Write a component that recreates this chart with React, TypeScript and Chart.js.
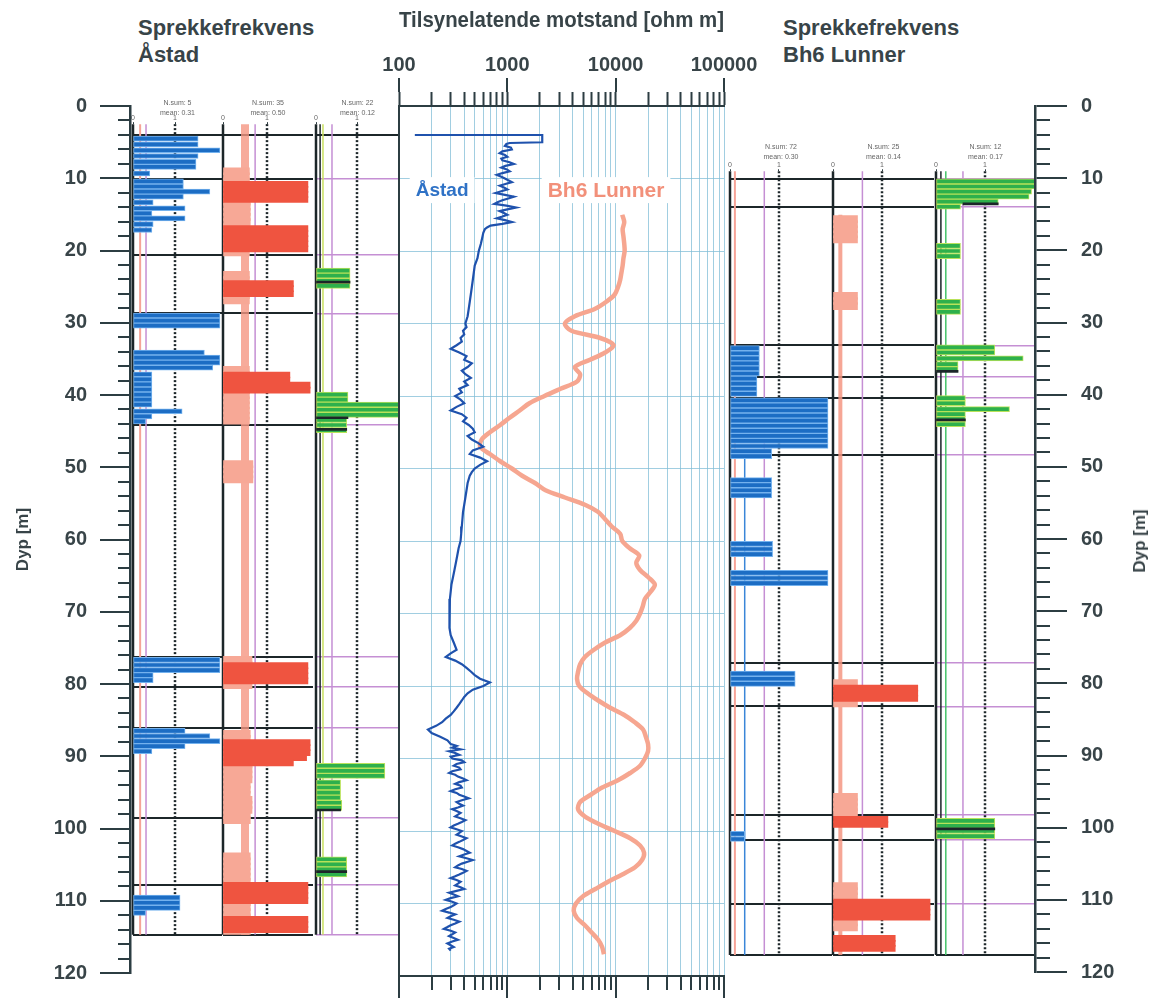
import React, { useEffect, useRef } from 'react';
import { Chart, registerables } from 'chart.js';

Chart.register(...registerables);

/* ======================= DATA ======================= */
const depthTickLabels = [0, 10, 20, 30, 40, 50, 60, 70, 80, 90, 100, 110, 120];
const resistivityTickLabels = [100, 1000, 10000, 100000];
const fractureTickLabels = [0, 1];

// [depth m, apparent resistivity ohm m]
const astadResistivity: [number, number][] = [
  [4.0, 140], [4.0, 2100], [5.0, 2100], [5.1, 1050], [5.25, 980], [5.5, 950], [5.75, 1080], [6.0, 1100],
  [6.25, 900], [6.5, 850], [6.75, 950], [7.0, 1000], [7.25, 880], [7.5, 900], [7.75, 1050], [8.0, 1150],
  [8.25, 960], [8.5, 880], [8.75, 990], [9.0, 1050], [9.25, 900], [9.5, 800], [9.75, 880], [10.0, 950],
  [10.25, 1020], [10.5, 1100], [10.75, 960], [11.0, 850], [11.25, 930], [11.5, 1000], [11.75, 880], [12.0, 780],
  [12.25, 950], [12.5, 1150], [12.75, 1020], [13.0, 900], [13.25, 820], [13.5, 760], [13.75, 980], [14.0, 1200],
  [14.25, 1000], [14.5, 850], [14.75, 930], [15.0, 1000], [15.25, 900], [15.5, 800], [15.75, 950], [16.0, 1100],
  [16.25, 900], [16.5, 700], [16.75, 650], [17.0, 620], [17.5, 600], [18.0, 590], [19.0, 570], [20.0, 545],
  [21.0, 530], [22.0, 500], [23.0, 490], [24.0, 480], [25.0, 470], [26.0, 460], [27.0, 450], [28.0, 440],
  [29.0, 430], [30.0, 410], [30.5, 420], [31.0, 390], [31.5, 400], [32.0, 370], [32.5, 380], [33.0, 340],
  [33.5, 300], [34.0, 360], [34.5, 420], [35.0, 400], [35.5, 470], [36.0, 430], [36.5, 380], [37.0, 410],
  [37.5, 460], [38.0, 400], [38.5, 430], [39.0, 360], [39.5, 380], [40.0, 330], [40.5, 370], [41.0, 400],
  [41.5, 340], [42.0, 300], [42.5, 380], [43.0, 420], [43.5, 390], [44.0, 440], [44.5, 480], [45.0, 500],
  [45.5, 430], [46.0, 470], [46.5, 540], [47.0, 600], [47.5, 480], [48.0, 450], [48.5, 560], [49.0, 650],
  [49.5, 560], [50.0, 500], [50.5, 470], [51.0, 450], [52.0, 430], [53.0, 420], [54.0, 410], [55.0, 400],
  [56.0, 390], [57.0, 385], [58.0, 380], [59.0, 375], [60.0, 370], [61.0, 355], [62.0, 345], [63.0, 335],
  [64.0, 325], [65.0, 315], [66.0, 305], [67.0, 300], [68.0, 295], [69.0, 292], [70.0, 290], [71.0, 292],
  [72.0, 295], [73.0, 300], [74.0, 320], [75.0, 340], [75.5, 300], [76.0, 270], [76.5, 330], [77.0, 380],
  [77.5, 420], [78.0, 460], [78.5, 500], [79.0, 560], [79.5, 690], [80.0, 600], [80.5, 480], [81.0, 430],
  [81.5, 400], [82.0, 380], [82.5, 360], [83.0, 340], [83.5, 320], [84.0, 300], [84.5, 270], [85.0, 250],
  [85.5, 220], [86.0, 185], [86.5, 200], [87.0, 240], [87.5, 280], [88.0, 300], [88.25, 340], [88.5, 310],
  [88.75, 370], [89.0, 290], [89.25, 330], [89.5, 360], [89.75, 300], [90.0, 310], [90.25, 380], [90.5, 400],
  [90.75, 340], [91.0, 320], [91.25, 360], [91.5, 370], [91.75, 310], [92.0, 290], [92.25, 330], [92.5, 350],
  [92.75, 390], [93.0, 420], [93.25, 360], [93.5, 330], [93.75, 370], [94.0, 380], [94.25, 330], [94.5, 300],
  [94.75, 340], [95.0, 360], [95.25, 400], [95.5, 440], [95.75, 380], [96.0, 340], [96.25, 360], [96.5, 390],
  [96.75, 350], [97.0, 310], [97.25, 340], [97.5, 370], [97.75, 350], [98.0, 330], [98.25, 370], [98.5, 410],
  [98.75, 380], [99.0, 350], [99.25, 320], [99.5, 300], [99.75, 340], [100.0, 380], [100.25, 360], [100.5, 340],
  [100.75, 380], [101.0, 420], [101.25, 390], [101.5, 360], [101.75, 330], [102.0, 310], [102.25, 350], [102.5, 390],
  [102.75, 420], [103.0, 450], [103.25, 400], [103.5, 360], [103.75, 420], [104.0, 480], [104.25, 430], [104.5, 380],
  [104.75, 350], [105.0, 330], [105.25, 380], [105.5, 420], [105.75, 390], [106.0, 360], [106.25, 330], [106.5, 300],
  [106.75, 340], [107.0, 370], [107.25, 350], [107.5, 330], [107.75, 370], [108.0, 400], [108.25, 340], [108.5, 290],
  [108.75, 320], [109.0, 350], [109.25, 300], [109.5, 270], [109.75, 310], [110.0, 340], [110.25, 320], [110.5, 300],
  [110.75, 270], [111.0, 250], [111.25, 290], [111.5, 330], [111.75, 300], [112.0, 280], [112.25, 320], [112.5, 360],
  [112.75, 330], [113.0, 300], [113.25, 280], [113.5, 260], [113.75, 300], [114.0, 330], [114.25, 310], [114.5, 290],
  [114.75, 320], [115.0, 350], [115.25, 310], [115.5, 280], [115.75, 300], [116.0, 320], [116.25, 290], [116.5, 300],
];

const lunnerResistivity: [number, number][] = [
  [15, 11500], [16, 12000], [17, 11600], [18, 11800], [19, 12000], [20, 12100], [21, 11800], [22, 11600],
  [23, 11300], [24, 11000], [25, 10500], [26, 9800], [27, 8200], [28, 6400], [29, 4200], [30, 3400],
  [31, 3900], [32, 7200], [33, 9600], [34, 8000], [35, 5800], [36, 4200], [37, 4700], [38, 4400],
  [39, 3100], [40, 2200], [41, 1600], [42, 1300], [43, 1050], [44, 860], [45, 690], [46, 580],
  [47, 560], [48, 690], [49, 860], [50, 1100], [51, 1370], [52, 1800], [53, 2250], [54, 3400],
  [55, 5200], [56, 6900], [57, 8000], [58, 9200], [59, 11000], [60, 11500], [61, 13500], [62, 16500],
  [63, 15500], [64, 16800], [65, 20000], [66, 23000], [67, 21000], [68, 18600], [69, 17800], [70, 16800],
  [71, 15500], [72, 13500], [73, 11000], [74, 8000], [75, 6300], [76, 5200], [77, 4700], [78, 4500],
  [79, 4400], [80, 4600], [81, 5500], [82, 6900], [83, 8900], [84, 12000], [85, 15000], [86, 17900],
  [87, 19000], [88, 19900], [89, 19900], [90, 18600], [91, 16800], [92, 13600], [93, 10500], [94, 7500],
  [95, 5900], [96, 4700], [97, 4500], [98, 5200], [99, 6900], [100, 9800], [101, 13600], [102, 16800],
  [103, 18300], [104, 17500], [105, 15100], [106, 11500], [107, 8500], [108, 6500], [109, 5000], [110, 4300],
  [111, 4100], [112, 4400], [113, 5200], [114, 6000], [115, 6900], [116, 7500], [117, 7800],
];

// Fracture frequency, Åstad: [depth, value]
const astadBlue: [number, number][] = [
  [4.5, 1.55], [5.3, 1.55], [6.1, 2.07], [6.9, 1.55], [7.7, 1.5], [8.4, 1.5], [9.3, 0.4], [10.4, 1.2],
  [11.1, 1.2], [11.8, 1.83], [12.5, 1.2], [13.3, 0.48], [14.1, 1.24], [14.8, 0.45], [15.5, 1.24], [16.3, 0.48],
  [17.1, 0.45], [28.9, 2.07], [29.6, 2.07], [30.3, 2.07], [34.0, 1.7], [34.7, 2.07], [35.4, 2.07], [36.1, 1.9],
  [37.0, 0.45], [37.7, 0.45], [38.4, 0.45], [39.1, 0.45], [39.8, 0.45], [40.5, 0.45], [41.2, 0.45], [42.1, 1.17],
  [42.8, 0.45], [43.5, 0.3], [76.4, 2.07], [77.1, 2.07], [77.8, 2.07], [78.5, 0.48], [79.2, 0.48], [86.2, 1.24],
  [86.9, 1.83], [87.6, 2.07], [88.3, 1.24], [89.0, 0.45], [109.2, 1.12], [109.9, 1.12], [110.6, 1.12], [111.3, 0.3],
];
const astadRedStrong: [number, number][] = [
  [10.8, 1.93], [11.5, 1.93], [12.2, 1.93], [12.9, 1.93], [16.9, 1.93], [17.6, 1.93], [18.3, 1.93], [19.0, 1.93],
  [19.7, 1.93], [24.5, 1.6], [25.2, 1.6], [25.9, 1.6], [37.1, 1.52], [37.8, 1.52], [38.5, 1.98], [39.2, 1.98],
  [77.2, 1.93], [77.9, 1.93], [78.6, 1.93], [79.3, 1.93], [87.8, 1.98], [88.5, 1.98], [89.2, 1.98], [89.9, 1.9],
  [90.6, 1.6], [107.5, 1.93], [108.2, 1.93], [108.9, 1.93], [109.6, 1.93], [112.2, 1.93], [112.9, 1.93], [113.6, 1.93],
];
const astadRedLight: [number, number][] = [
  [9.0, 0.6], [9.7, 0.6], [10.4, 0.6], [11.1, 0.6], [11.8, 0.6], [12.5, 0.6], [13.2, 0.62], [13.9, 0.62],
  [14.6, 0.62], [15.3, 0.62], [16.0, 0.62], [16.7, 0.6], [17.4, 0.6], [18.1, 0.6], [18.8, 0.6], [19.5, 0.6],
  [20.2, 0.6], [23.3, 0.6], [24.0, 0.6], [24.7, 0.6], [25.4, 0.6], [26.1, 0.6], [26.8, 0.6], [36.4, 0.6],
  [37.1, 0.6], [37.8, 0.6], [38.5, 0.6], [39.2, 0.6], [39.9, 0.6], [40.6, 0.6], [41.3, 0.6], [42.0, 0.6],
  [42.7, 0.6], [43.4, 0.6], [49.4, 0.68], [50.1, 0.68], [50.8, 0.68], [51.5, 0.68], [76.4, 0.66], [77.1, 0.66],
  [77.8, 0.66], [78.5, 0.66], [79.2, 0.66], [79.9, 0.66], [86.6, 0.62], [87.3, 0.62], [88.0, 0.62], [88.7, 0.62],
  [89.4, 0.62], [90.1, 0.62], [90.8, 0.66], [91.5, 0.66], [92.2, 0.66], [92.9, 0.66], [93.6, 0.62], [94.3, 0.62],
  [95.0, 0.62], [95.7, 0.66], [96.4, 0.66], [97.1, 0.66], [97.8, 0.62], [98.5, 0.62], [103.5, 0.62], [104.2, 0.62],
  [104.9, 0.62], [105.6, 0.62], [106.3, 0.62], [107.0, 0.62], [107.7, 0.62], [108.4, 0.62], [109.1, 0.62], [109.8, 0.62],
  [110.5, 0.62], [111.2, 0.62], [111.9, 0.62], [112.6, 0.62], [113.3, 0.62], [114.0, 0.62],
];
const astadGreen: [number, number][] = [
  [22.7, 0.83], [23.4, 0.83], [24.1, 0.83], [24.8, 0.83], [39.8, 0.78], [40.5, 0.78], [41.2, 2.05], [41.9, 2.05],
  [42.6, 2.05], [43.3, 0.75], [44.0, 0.75], [44.7, 0.75], [91.0, 1.68], [91.7, 1.68], [92.4, 1.68], [93.3, 0.6],
  [94.0, 0.6], [94.7, 0.6], [95.4, 0.6], [96.1, 0.63], [96.8, 0.63], [103.9, 0.75], [104.6, 0.75], [105.3, 0.75],
  [106.0, 0.75],
];
const astadGreenMarks: [number, number, number][] = [
  [24.3, 0, 0.83], [43.0, 0, 0.78], [44.6, 0, 0.75], [97.1, 0, 0.6], [105.6, 0, 0.75],
];

// Fracture frequency, Bh6 Lunner: [depth, value]
const lunnerBlue: [number, number][] = [
  [33.4, 0.6], [34.1, 0.6], [34.8, 0.6], [35.5, 0.6], [36.2, 0.6], [36.9, 0.6], [37.6, 0.55], [38.3, 0.55],
  [39.0, 0.55], [39.7, 0.55], [40.6, 2.0], [41.3, 2.0], [42.0, 2.0], [42.7, 2.0], [43.4, 2.0], [44.1, 2.0],
  [44.8, 2.0], [45.5, 2.0], [46.2, 2.0], [46.9, 2.0], [47.6, 0.85], [48.3, 0.85], [51.6, 0.85], [52.3, 0.85],
  [53.0, 0.85], [53.7, 0.85], [60.4, 0.87], [61.1, 0.87], [61.8, 0.87], [64.4, 2.0], [65.1, 2.0], [65.8, 2.0],
  [78.3, 1.33], [79.0, 1.33], [79.7, 1.33], [100.4, 0.3], [101.1, 0.3],
];
const lunnerRedStrong: [number, number][] = [
  [80.3, 1.73], [81.0, 1.73], [81.7, 1.73], [98.4, 1.12], [99.1, 1.12], [109.8, 1.98], [110.5, 1.98], [111.2, 1.98],
  [111.9, 1.98], [114.8, 1.27], [115.5, 1.27], [116.2, 1.27],
];
const lunnerRedLight: [number, number][] = [
  [15.6, 0.5], [16.3, 0.5], [17.0, 0.5], [17.7, 0.5], [18.4, 0.5], [26.2, 0.5], [26.9, 0.5], [27.6, 0.5],
  [79.6, 0.5], [82.4, 0.5], [95.3, 0.5], [96.0, 0.5], [96.7, 0.5], [97.4, 0.5], [107.6, 0.5], [108.3, 0.5],
  [109.0, 0.5], [112.6, 0.5], [113.3, 0.5],
];
const lunnerGreen: [number, number][] = [
  [10.4, 2.03], [11.1, 2.03], [11.8, 1.95], [12.5, 1.9], [13.2, 1.27], [13.9, 0.5], [19.3, 0.5], [20.0, 0.5],
  [20.7, 0.5], [27.0, 0.5], [27.7, 0.5], [28.4, 0.5], [33.3, 1.2], [34.0, 1.2], [34.8, 1.78], [35.6, 0.45],
  [36.3, 0.45], [40.3, 0.6], [41.0, 0.6], [41.8, 1.5], [42.5, 0.6], [43.2, 0.6], [43.9, 0.6], [98.6, 1.2],
  [99.3, 1.2], [100.0, 1.2], [100.7, 1.2],
];
const lunnerGreenMarks: [number, number, number][] = [
  [13.5, 0.55, 1.27], [36.6, 0, 0.45], [43.3, 0, 0.6], [99.7, 0, 1.2],
];

// zone boundaries (depth m)
const astadZones = [4, 10, 20.5, 28.6, 44, 76, 80.1, 85.8, 98.2, 107.4, 114.3];
const astadTop = [4];
const lunnerZones = [10.1, 13.9, 33, 37.4, 40.3, 48.1, 76.8, 82.8, 97.8, 101.2, 110, 117.1];

// panel headers
const astadHeaders = [['N.sum: 5', 'mean: 0.31'], ['N.sum: 35', 'mean: 0.50'], ['N.sum: 22', 'mean: 0.12']];
const lunnerHeaders = [['N.sum: 72', 'mean: 0.30'], ['N.sum: 25', 'mean: 0.14'], ['N.sum: 12', 'mean: 0.17']];

// reference (vertical) lines in each panel: value on the panel's x axis
const astadBlueRefs = [0.17, 0.31];
const astadRedRefs = [0.5, 0.73];
const astadGreenRefs = [0.1, 0.17, 0.39];
const lunnerBlueRefs = [0.1, 0.3, 0.7];
const lunnerRedRefs = [0.15, 0.6];
const lunnerGreenRefs = [0.1, 0.2, 0.55];

const curveLabels = [
  { text: 'Åstad', value: 250, depth: 11.6, color: '#2f72c6', size: 19 },
  { text: 'Bh6 Lunner', value: 8150, depth: 11.6, color: '#f2907a', size: 21 },
];

/* ======================= STYLE / LAYOUT ======================= */
const FONT = '"Liberation Sans", Arial, Helvetica, sans-serif';
const C_TEXT = '#384448';
const C_AXIS = '#2c3d42';
const C_GRID = 'rgba(130,190,215,0.75)';
const C_BLACK = '#1c2629';
const C_PURPLE = '#c58fd4';
const C_SALMON = '#f5a397';
const CANVAS_H = 998;
const PX_TOP = 106;
const PX_BOT = 976;
const yPix = (d: number) => PX_TOP + (d * (PX_BOT - PX_TOP)) / 120;

const baseOptions = {
  animation: false,
  responsive: false,
  devicePixelRatio: 1,
  events: [],
  plugins: { legend: { display: false }, tooltip: { enabled: false } },
};

function ChartBox({ left, top, width, height, make }: any) {
  const ref = useRef<HTMLCanvasElement>(null);
  useEffect(() => {
    const chart = new Chart(ref.current as HTMLCanvasElement, make());
    return () => chart.destroy();
  }, []);
  return (
    <canvas
      ref={ref}
      width={width}
      height={height}
      style={{ position: 'absolute', left, top, width, height }}
    />
  );
}

/* ---------- depth axes ---------- */
function depthAxisConfig(side: 'left' | 'right') {
  const L = side === 'left';
  const common = { type: 'linear', position: side, min: 0, max: 120, reverse: true };
  return {
    type: 'line',
    data: { datasets: [] },
    options: {
      ...baseOptions,
      layout: { padding: { left: 0, right: 0, top: PX_TOP, bottom: CANVAS_H - PX_BOT } },
      scales: {
        x: { type: 'linear', display: false, min: 0, max: 1 },
        yMinor: {
          ...common,
          weight: 0,
          ticks: { display: false, stepSize: 2 },
          grid: { drawOnChartArea: false, tickLength: L ? 12 : 15, color: C_AXIS, lineWidth: 2 },
          border: { display: true, color: C_AXIS, width: 2.5 },
          afterFit: (s: any) => { s.width = L ? 12 : 15; },
        },
        yMajor: {
          ...common,
          weight: 1,
          afterBuildTicks: (s: any) => { s.ticks = depthTickLabels.map((v) => ({ value: v })); },
          ticks: { padding: L ? 13 : 14, font: { family: FONT, size: 20, weight: 'bold' }, color: C_TEXT },
          grid: { drawOnChartArea: false, tickLength: L ? 18 : 17, color: C_AXIS, lineWidth: 2 },
          border: { display: false },
          title: {
            display: L, text: 'Dyp [m]', color: C_TEXT,
            font: { family: FONT, size: 17, weight: 'bold' },
            padding: { top: 13, bottom: 0 },
          },
          afterFit: (s: any) => { s.width = L ? 118 : 100; },
        },
      },
    },
  };
}

/* ---------- resistivity panel ---------- */
const logTicks: number[] = [];
resistivityTickLabels.forEach((dec, i) => {
  if (i === resistivityTickLabels.length - 1) { logTicks.push(dec); return; }
  for (let m = 1; m <= 9; m++) logTicks.push(dec * m);
});

const curveLabelPlugin = {
  id: 'curveLabels',
  afterDatasetsDraw(chart: any) {
    const xs = chart.scales.xTopMinor;
    const ys = chart.scales.yGrid;
    const ctx = chart.ctx;
    ctx.save();
    ctx.textAlign = 'center';
    ctx.textBaseline = 'middle';
    curveLabels.forEach((l) => {
      ctx.font = `bold ${l.size}px ${FONT}`;
      const x = xs.getPixelForValue(l.value);
      const y = ys.getPixelForValue(l.depth);
      const w = ctx.measureText(l.text).width;
      ctx.fillStyle = '#ffffff';
      ctx.fillRect(x - w / 2 - 6, y - 13, w + 12, 26);
      ctx.fillStyle = l.color;
      ctx.fillText(l.text, x, y + 1);
    });
    ctx.restore();
  },
};

function resistivityConfig() {
  const logBase = { type: 'logarithmic', min: 100, max: 100000 };
  const decadesOnly = (s: any) => { s.ticks = resistivityTickLabels.map((v) => ({ value: v })); };
  const allTicks = (s: any) => { s.ticks = logTicks.map((v) => ({ value: v })); };
  return {
    type: 'line',
    data: {
      datasets: [
        {
          label: 'Åstad',
          data: astadResistivity.map(([d, v]) => ({ x: v, y: d })),
          borderColor: '#1f52ad', borderWidth: 2.2, pointRadius: 0, tension: 0,
          indexAxis: 'y', xAxisID: 'xTopMinor', yAxisID: 'yGrid', order: 0,
        },
        {
          label: 'Bh6 Lunner',
          data: lunnerResistivity.map(([d, v]) => ({ x: v, y: d })),
          borderColor: '#f6a690', borderWidth: 4.5, pointRadius: 0, tension: 0.3,
          indexAxis: 'y', xAxisID: 'xTopMinor', yAxisID: 'yGrid', order: 1,
        },
      ],
    },
    plugins: [curveLabelPlugin],
    options: {
      ...baseOptions,
      layout: { padding: { left: 59, right: 56, top: 5, bottom: 0 } },
      scales: {
        xTopMinor: {
          ...logBase, position: 'top', weight: 0,
          afterBuildTicks: allTicks,
          ticks: { display: false, autoSkip: false },
          grid: { drawOnChartArea: true, color: C_GRID, lineWidth: 1, tickLength: 14, tickColor: C_AXIS, tickWidth: 2 },
          border: { display: true, color: C_AXIS, width: 2 },
          afterFit: (s: any) => { s.height = 14; },
        },
        xTopMajor: {
          ...logBase, position: 'top', weight: 1,
          afterBuildTicks: decadesOnly,
          ticks: {
            autoSkip: false, maxRotation: 0, padding: 1, color: C_TEXT,
            font: { family: FONT, size: 20, weight: 'bold' },
            callback: (v: any) => String(v),
          },
          grid: { drawOnChartArea: false, tickLength: 14, color: C_AXIS, lineWidth: 2 },
          border: { display: false },
          title: {
            display: true, text: 'Tilsynelatende motstand [ohm m]', color: C_TEXT,
            font: { family: FONT, size: 22, weight: 'bold' }, padding: { top: 3, bottom: 0 },
          },
          afterFit: (s: any) => { s.height = 87; },
        },
        xBotMinor: {
          ...logBase, position: 'bottom', weight: 0,
          afterBuildTicks: allTicks,
          ticks: { display: false, autoSkip: false },
          grid: { drawOnChartArea: false, tickLength: 14, color: C_AXIS, lineWidth: 2 },
          border: { display: true, color: C_AXIS, width: 2 },
          afterFit: (s: any) => { s.height = 14; },
        },
        xBotMajor: {
          ...logBase, position: 'bottom', weight: 1,
          afterBuildTicks: decadesOnly,
          ticks: { display: false, autoSkip: false },
          grid: { drawOnChartArea: false, tickLength: 12, color: C_AXIS, lineWidth: 2 },
          border: { display: false },
          afterFit: (s: any) => { s.height = 8; },
        },
        yGrid: {
          type: 'linear', position: 'left', min: 0, max: 120, reverse: true,
          afterBuildTicks: (s: any) => { s.ticks = depthTickLabels.map((v) => ({ value: v })); },
          ticks: { display: false },
          grid: { drawOnChartArea: true, drawTicks: false, color: C_GRID, lineWidth: 1 },
          border: { display: true, color: C_AXIS, width: 2 },
          afterFit: (s: any) => { s.width = 0; },
        },
      },
    },
  };
}

/* ---------- fracture panels ---------- */
type Layer = { data: [number, number][]; color: string; border?: string; thick: number };
type Ref = { v: number; color: string; width: number; dash?: number[]; from?: number; to?: number };
type PanelSpec = {
  x0: number; ppu: number; w: number; dTop: number; dBot: number; headH: number;
  header: string[]; layers: Layer[]; marks?: [number, number, number][];
  refs: Ref[]; black: number[]; purple: number[];
};
const SIDE_PAD = 14;

function panelConfig(p: PanelSpec) {
  const top = yPix(p.dTop);
  const bot = yPix(p.dBot);
  const datasets: any[] = [];
  if (p.marks) {
    datasets.push({
      type: 'bar', indexAxis: 'y', grouped: false, order: 0,
      data: p.marks.map(([d, a, b]) => ({ x: [a, b], y: d })),
      backgroundColor: C_BLACK, barThickness: 2, borderWidth: 0,
    });
  }
  p.layers.forEach((L, i) => {
    datasets.push({
      type: 'bar', indexAxis: 'y', grouped: false, order: 1 + i,
      data: L.data.map(([d, v]) => ({ x: v, y: d })),
      backgroundColor: L.color, borderColor: L.border || L.color, borderWidth: L.border ? 1 : 0,
      barThickness: L.thick, borderSkipped: false,
    });
  });
  p.refs.forEach((r, i) => {
    datasets.push({
      type: 'line', indexAxis: 'y', order: 20 + i, clip: false,
      data: [{ x: r.v, y: r.from ?? p.dTop }, { x: r.v, y: r.to ?? p.dBot }],
      borderColor: r.color, borderWidth: r.width, borderDash: r.dash || [], pointRadius: 0,
    });
  });
  const yBase = { type: 'linear', min: p.dTop, max: p.dBot, reverse: true, offset: false };
  const lineAxis = (vals: number[], color: string, width: number) => ({
    ...yBase, position: 'left',
    afterBuildTicks: (s: any) => { s.ticks = vals.map((v) => ({ value: v })); },
    ticks: { display: false },
    grid: { drawOnChartArea: true, drawTicks: false, color, lineWidth: width, offset: false },
    border: { display: false },
    afterFit: (s: any) => { s.width = 0; },
  });
  return {
    type: 'line',
    data: { datasets },
    options: {
      ...baseOptions,
      indexAxis: 'y',
      layout: { padding: { left: SIDE_PAD, right: SIDE_PAD, top: top - p.headH, bottom: CANVAS_H - bot } },
      scales: {
        x: {
          type: 'linear', position: 'top', min: 0, max: p.w / p.ppu,
          afterBuildTicks: (s: any) => { s.ticks = fractureTickLabels.map((v) => ({ value: v })); },
          ticks: { autoSkip: false, maxRotation: 0, padding: 0, color: '#666', font: { family: FONT, size: 7 } },
          grid: { drawOnChartArea: false, tickLength: 2, color: C_AXIS, lineWidth: 1 },
          border: { display: false },
          title: {
            display: true, text: p.header, color: '#666',
            font: { family: FONT, size: 7, lineHeight: 1.4 }, padding: { top: 0, bottom: 0 },
          },
          afterFit: (s: any) => { s.height = p.headH; },
        },
        y: { ...yBase, display: false, grid: { offset: false } },
        yBlack: lineAxis(p.black, C_BLACK, 2),
        yPurple: lineAxis(p.purple, C_PURPLE, 1.5),
      },
    },
  };
}

const blackEdge = (v: number): Ref => ({ v, color: C_BLACK, width: 2.5 });
const dotted = (v: number): Ref => ({ v, color: C_BLACK, width: 2.5, dash: [2, 2] });

const C_BLUE = '#1c6dc4';
const C_BLUE_EDGE = '#74b2ee';
const C_RED = '#ef5440';
const C_RED_LIGHT = '#f7a896';
const C_GREEN = '#2eb04c';
const C_GREEN_EDGE = '#b9e25a';

const A_TOP = 2.5, A_BOT = 114.3, A_HEAD = 26;
const B_TOP = 9.0, B_BOT = 117.1, B_HEAD = 29;

const panels: PanelSpec[] = [
  {
    x0: 133, ppu: 42, w: 89, dTop: A_TOP, dBot: A_BOT, headH: A_HEAD, header: astadHeaders[0],
    layers: [{ data: astadBlue, color: C_BLUE, border: C_BLUE_EDGE, thick: 5 }],
    refs: [blackEdge(0), { v: astadBlueRefs[0], color: C_SALMON, width: 2 }, { v: astadBlueRefs[1], color: C_PURPLE, width: 1.5 }, dotted(1)],
    black: astadZones, purple: [],
  },
  {
    x0: 223, ppu: 44, w: 90, dTop: A_TOP, dBot: A_BOT, headH: A_HEAD, header: astadHeaders[1],
    layers: [
      { data: astadRedStrong, color: C_RED, thick: 6 },
      { data: astadRedLight, color: C_RED_LIGHT, thick: 7 },
    ],
    refs: [blackEdge(0), { v: astadRedRefs[0], color: 'rgba(245,150,130,0.8)', width: 8 }, { v: astadRedRefs[1], color: C_PURPLE, width: 1.5 }, dotted(1)],
    black: astadZones, purple: [],
  },
  {
    x0: 316, ppu: 41, w: 83, dTop: A_TOP, dBot: A_BOT, headH: A_HEAD, header: astadHeaders[2],
    layers: [{ data: astadGreen, color: C_GREEN, border: C_GREEN_EDGE, thick: 5 }],
    marks: astadGreenMarks,
    refs: [blackEdge(0), { v: astadGreenRefs[0], color: C_BLACK, width: 1.5 }, { v: astadGreenRefs[1], color: '#c9e060', width: 1.5 }, { v: astadGreenRefs[2], color: C_PURPLE, width: 1.5 }, dotted(1)],
    black: astadTop, purple: astadZones.filter((d) => d !== 4),
  },
  {
    x0: 730, ppu: 49, w: 102, dTop: B_TOP, dBot: B_BOT, headH: B_HEAD, header: lunnerHeaders[0],
    layers: [{ data: lunnerBlue, color: C_BLUE, border: C_BLUE_EDGE, thick: 5 }],
    refs: [blackEdge(0), { v: lunnerBlueRefs[0], color: C_SALMON, width: 2 }, { v: lunnerBlueRefs[1], color: '#3a86d8', width: 1.5, from: 48 }, { v: lunnerBlueRefs[2], color: C_PURPLE, width: 1.5 }, dotted(1)],
    black: lunnerZones, purple: [],
  },
  {
    x0: 833, ppu: 49, w: 101, dTop: B_TOP, dBot: B_BOT, headH: B_HEAD, header: lunnerHeaders[1],
    layers: [
      { data: lunnerRedStrong, color: C_RED, thick: 6 },
      { data: lunnerRedLight, color: C_RED_LIGHT, thick: 7 },
    ],
    refs: [blackEdge(0), { v: lunnerRedRefs[0], color: 'rgba(245,150,130,0.85)', width: 4, from: 15 }, { v: lunnerRedRefs[1], color: C_PURPLE, width: 1.5 }, dotted(1)],
    black: lunnerZones, purple: [],
  },
  {
    x0: 936, ppu: 49, w: 99, dTop: B_TOP, dBot: B_BOT, headH: B_HEAD, header: lunnerHeaders[2],
    layers: [{ data: lunnerGreen, color: C_GREEN, border: C_GREEN_EDGE, thick: 5 }],
    marks: lunnerGreenMarks,
    refs: [blackEdge(0), { v: lunnerGreenRefs[0], color: C_BLACK, width: 1.5 }, { v: lunnerGreenRefs[1], color: '#46c46a', width: 1.5 }, { v: lunnerGreenRefs[2], color: C_PURPLE, width: 1.5 }, dotted(1)],
    black: [lunnerZones[lunnerZones.length - 1]], purple: lunnerZones.slice(0, -1),
  },
];

const headingStyle = (left: number): React.CSSProperties => ({
  position: 'absolute', left, top: 14, font: `bold 22px ${FONT}`, lineHeight: '27px',
  color: C_TEXT, whiteSpace: 'nowrap',
});

export default function App() {
  return (
    <div style={{ position: 'absolute', left: 0, top: 0, width: 1150, height: CANVAS_H, background: '#ffffff', overflow: 'hidden' }}>
      <div style={headingStyle(138)}>Sprekkefrekvens<br />Åstad</div>
      <div style={headingStyle(783)}>Sprekkefrekvens<br />Bh6 Lunner</div>
      {panels.map((p, i) => (
        <ChartBox key={i} left={p.x0 - SIDE_PAD} top={0} width={p.w + 2 * SIDE_PAD} height={CANVAS_H} make={() => panelConfig(p)} />
      ))}
      <ChartBox left={340} top={0} width={440} height={CANVAS_H} make={resistivityConfig} />
      <ChartBox left={0} top={0} width={132} height={CANVAS_H} make={() => depthAxisConfig('left')} />
      <ChartBox left={1033} top={0} width={117} height={CANVAS_H} make={() => depthAxisConfig('right')} />
      <div
        style={{
          position: 'absolute', left: 1140, top: yPix(60), transform: 'translate(-50%, -50%) rotate(-90deg)',
          font: `bold 17px ${FONT}`, color: C_TEXT, whiteSpace: 'nowrap',
        }}
      >
        Dyp [m]
      </div>
    </div>
  );
}
